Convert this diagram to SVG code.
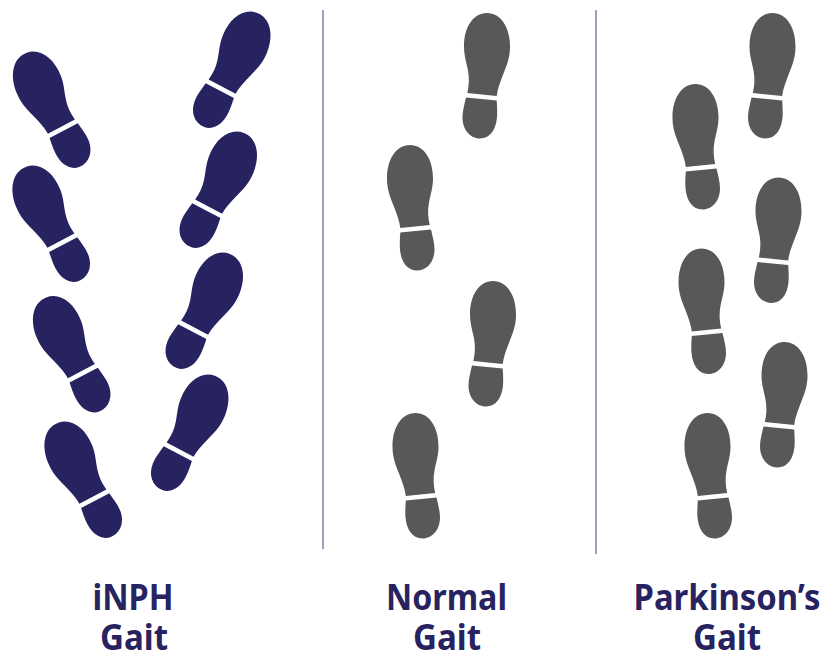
<svg xmlns="http://www.w3.org/2000/svg" xmlns:xlink="http://www.w3.org/1999/xlink" width="823" height="655" viewBox="0 0 823 655">
<style>
.n{fill:#272361}.g{fill:#58585a}
.sep{stroke:#5f5f8c;stroke-width:1.2;fill:none}
text{font-family:"Noto Sans","Open Sans","Liberation Sans",sans-serif;font-weight:700;font-size:35px;fill:#272361;text-anchor:middle}
</style>
<defs>
<g id="foot">
<path d="M-19.7 17.5L9.7 20.5C10.5 13 13.5 6 16.5 -2C20 -11 23 -18 23 -29C23 -48 14 -62.5 0 -62.5C-14 -62.5 -23 -48 -23 -29C-23 -20 -20.5 -13 -19 -5C-17.5 3 -18 10 -19.7 17.5Z"/>
<path d="M-21 22L9.7 25C10 30 10.5 36 10 42C9 54 3 63 -7 63C-17 63 -24.5 54 -24.5 42C-24.5 35 -22.5 29 -21 22Z"/>
</g>
</defs>
<rect width="823" height="655" fill="#fff"/>
<g id="connectors">
<line class="sep" x1="323" y1="10" x2="323" y2="549"/>
<line class="sep" x1="596" y1="10" x2="596" y2="554"/>
</g>
<g id="inph" class="n">
<use id="inph-l1" xlink:href="#foot" transform="translate(49.5 111) rotate(-22) scale(-1.03 1)"/>
<use id="inph-l2" xlink:href="#foot" transform="translate(49 225) rotate(-22) scale(-1.03 1)"/>
<use id="inph-l3" xlink:href="#foot" transform="translate(69.5 355.5) rotate(-22) scale(-1.03 1)"/>
<use id="inph-l4" xlink:href="#foot" transform="translate(81 481) rotate(-22) scale(-1.03 1)"/>
<use id="inph-r1" xlink:href="#foot" transform="translate(234 71) rotate(22) scale(1.03 1)"/>
<use id="inph-r2" xlink:href="#foot" transform="translate(220.5 191) rotate(22) scale(1.03 1)"/>
<use id="inph-r3" xlink:href="#foot" transform="translate(206.5 312) rotate(22) scale(1.03 1)"/>
<use id="inph-r4" xlink:href="#foot" transform="translate(192 434) rotate(22) scale(1.03 1)"/>
</g>
<g id="normal" class="g">
<use id="normal-r1" xlink:href="#foot" transform="translate(487 75.5)"/>
<use id="normal-l1" xlink:href="#foot" transform="translate(410 207.5) scale(-1 1)"/>
<use id="normal-r2" xlink:href="#foot" transform="translate(493 343.5)"/>
<use id="normal-l2" xlink:href="#foot" transform="translate(415.5 475.5) scale(-1 1)"/>
</g>
<g id="parkinsons" class="g">
<use id="park-l1" xlink:href="#foot" transform="translate(695.5 146.5) scale(-1 1)"/>
<use id="park-r1" xlink:href="#foot" transform="translate(772.5 75.5)"/>
<use id="park-r2" xlink:href="#foot" transform="translate(778.5 240)"/>
<use id="park-l2" xlink:href="#foot" transform="translate(701.5 311) scale(-1 1)"/>
<use id="park-r3" xlink:href="#foot" transform="translate(784.5 404.5)"/>
<use id="park-l3" xlink:href="#foot" transform="translate(707.5 475.5) scale(-1 1)"/>
</g>
<g id="labels">
<text x="133" y="610" textLength="81" lengthAdjust="spacingAndGlyphs">iNPH</text>
<text x="134" y="650" textLength="68" lengthAdjust="spacingAndGlyphs">Gait</text>
<text x="446.5" y="610" textLength="121" lengthAdjust="spacingAndGlyphs">Normal</text>
<text x="447" y="650" textLength="68" lengthAdjust="spacingAndGlyphs">Gait</text>
<text x="727" y="610" textLength="187" lengthAdjust="spacingAndGlyphs">Parkinson’s</text>
<text x="727" y="650" textLength="68" lengthAdjust="spacingAndGlyphs">Gait</text>
</g>
</svg>
